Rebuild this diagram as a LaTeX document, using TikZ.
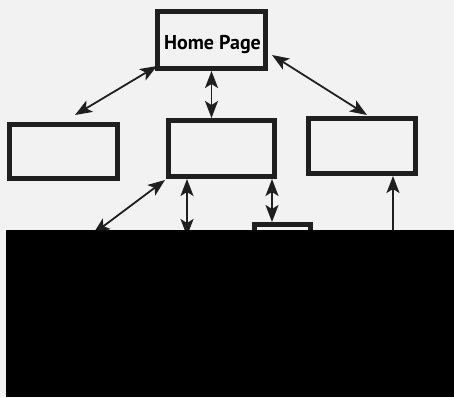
\documentclass[tikz,border=0pt]{standalone}
\usepackage{fontspec}
\setsansfont{PT Sans}
\usetikzlibrary{arrows.meta,calc}
\definecolor{paper}{gray}{0.95}
\definecolor{ink}{gray}{0.12}
\tikzset{
  pagebox/.style={draw=ink, line width=5pt, outer sep=2.5pt, inner sep=0pt, fill=none},
  headtip/.tip={Stealth[length=17pt,width=13pt,inset=4pt]},
  link/.style={draw=ink, line width=1.8pt, headtip-headtip},
  uplink/.style={draw=ink, line width=1.8pt, -headtip}
}
\begin{document}
\begin{tikzpicture}[x=1pt,y=-1pt]
  % page and proportions
  \fill[paper] (0,0) rectangle (454,397);
  \useasboundingbox (0,0) rectangle (454,397);

  % page boxes
  \node[pagebox, minimum width=108pt, minimum height=57pt] (home) at (211.5,40) {};
  \node[font=\sffamily\bfseries\fontsize{20}{22}\selectfont, inner sep=0pt, anchor=base] (title) at (212.5,49) {Home Page};
  \node[pagebox, minimum width=108pt, minimum height=54pt] (left) at (63.5,151.5) {};
  \node[pagebox, minimum width=106pt, minimum height=56pt] (mid) at (221.5,148.5) {};
  \node[pagebox, minimum width=107pt, minimum height=55pt] (right) at (362,146) {};
  \node[pagebox, minimum width=56pt, minimum height=40pt] (small) at (282.5,244.5) {};

  % free ends running off the lower edge
  \coordinate (downleft) at (93,234);
  \coordinate (downmid) at (187,236);
  \coordinate (upright) at (393,240);

  % links between pages
  \draw[link] ([shift={(2,-5)}]home.south west) -- ([shift={(11.5,-7)}]left.north);
  \draw[link] (home.south) -- (home.south |- mid.north);
  \draw[link] ([shift={(4,-16)}]home.south east) -- ([shift={(5,-1)}]right.north);
  \draw[link] ([shift={(-1,1)}]mid.south west) -- (downleft);
  \draw[link] (downmid |- mid.south) -- (downmid);
  \draw[link] ([xshift=50.5pt]mid.south) -- ([xshift=50.5pt]mid.south |- small.north);
  \draw[uplink] (upright) -- (upright |- right.south);

  % solid black band across the lower part
  \fill[black] (6,230) rectangle (454,397);
\end{tikzpicture}
\end{document}
